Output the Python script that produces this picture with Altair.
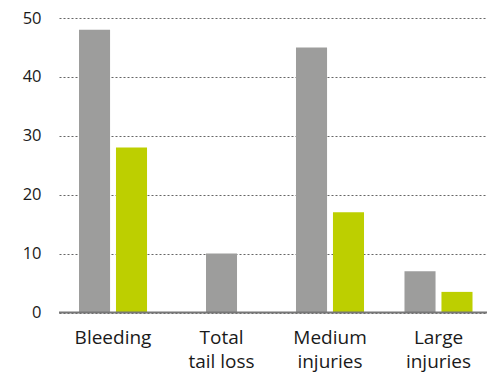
import altair as alt
import pandas as pd

# Injury categories (x-axis), two series per category
categories = ["Bleeding", "Total\ntail loss", "Medium\ninjuries", "Large\ninjuries"]
series = ["A", "B"]
values_a = [48, 10, 45, 7]
values_b = [28, None, 17, 3.5]

paired_rows = []
single_rows = []
for cat, a, b in zip(categories, values_a, values_b):
    if b is None:
        single_rows.append({"category": cat, "series": "A", "value": a})
    else:
        paired_rows.append({"category": cat, "series": "A", "value": a})
        paired_rows.append({"category": cat, "series": "B", "value": b})

paired = pd.DataFrame(paired_rows)
single = pd.DataFrame(single_rows)

FONT = "Open Sans"
colors = alt.Scale(domain=series, range=["#9d9d9c", "#bdcf00"])

x_enc = alt.X(
    "category:N",
    sort=categories,
    scale=alt.Scale(
        domain=categories, paddingInner=0.373, paddingOuter=0.159, align=0.58
    ),
    axis=alt.Axis(
        title=None,
        labelExpr="split(datum.label, '\\n')",
        labelFontSize=19,
        labelFont=FONT,
        labelColor="#1a1a1a",
        labelPadding=16,
        labelLineHeight=24,
        labelAngle=0,
        ticks=False,
        domain=False,
        grid=False,
        labelBaseline="top",
    ),
)
y_enc = alt.Y(
    "value:Q",
    scale=alt.Scale(domain=[0, 50]),
    axis=alt.Axis(
        title=None,
        values=[0, 10, 20, 30, 40, 50],
        labelFontSize=16.5,
        labelFont=FONT,
        labelColor="#1a1a1a",
        labelPadding=18,
        ticks=False,
        domain=False,
        grid=True,
        gridDash=[2, 2],
        gridColor="#666666",
        gridWidth=1,
    ),
)

pairs = alt.Chart(paired).mark_bar().encode(
    x=x_enc,
    xOffset=alt.XOffset(
        "series:N",
        sort=series,
        scale=alt.Scale(domain=series, paddingInner=0.16, paddingOuter=0),
    ),
    y=y_enc,
    color=alt.Color("series:N", scale=colors, legend=None),
)

singles = alt.Chart(single).mark_bar(width=alt.RelativeBandSize(0.456)).encode(
    x=x_enc,
    y=y_enc,
    color=alt.Color("series:N", scale=colors, legend=None),
)

baseline = alt.Chart(pd.DataFrame({"value": [0]})).mark_rule(
    color="#777777", strokeWidth=2
).encode(y="value:Q")

chart = (
    alt.layer(pairs, singles, baseline)
    .properties(
        width=428,
        height=294.5,
        autosize=alt.AutoSizeParams(type="none"),
        padding={"left": 59, "top": 18, "right": 0, "bottom": 63.5},
    )
    .configure(background="white")
    .configure_view(stroke=None)
)

chart.save("out.html", embed_options={"renderer": "svg", "actions": False})
